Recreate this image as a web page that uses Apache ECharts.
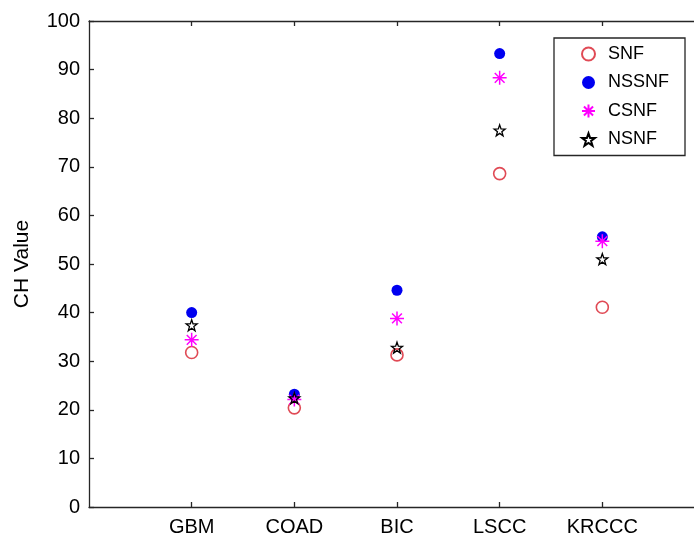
<!DOCTYPE html>
<html>
<head>
<meta charset="utf-8">
<script src="https://cdn.jsdelivr.net/npm/echarts@6/dist/echarts.min.js"></script>
<style>html,body{margin:0;padding:0;background:#fff}#c{width:694px;height:540px}</style>
</head>
<body>
<div id="c"></div>
<script>
const categories = ['GBM', 'COAD', 'BIC', 'LSCC', 'KRCCC'];
const snf   = [31.8, 20.4, 31.3, 68.6, 41.1];
const nssnf = [40.0, 23.2, 44.6, 93.3, 55.6];
const csnf  = [34.4, 22.1, 38.8, 88.3, 54.7];
const nsnf  = [37.4, 22.4, 32.8, 77.5, 51.0];
const yTicks = [0, 10, 20, 30, 40, 50, 60, 70, 80, 90, 100];

const FONT = 'Liberation Sans, Arial, sans-serif';
const asterisk = 'path://M10,0L10,20M0,10L20,10M3,3L17,17M3,17L17,3';
const pentagram = 'path://M10,0L12.35,6.76L19.51,6.91L13.8,11.24L15.88,18.09L10,14L4.12,18.09L6.2,11.24L0.49,6.91L7.65,6.76Z';

function pts(arr){ return arr.map((v,i)=>[i+1, v]); }

const chart = echarts.init(document.getElementById('c'), null, {renderer:'canvas'});
const axisCol = '#262626';
chart.setOption({
  animation: false,
  grid: {left: 89, top: 21, width: 616, height: 486, show: false, containLabel: false, outerBoundsMode: 'none'},
  xAxis: [{
    type: 'value', min: 0, max: 6, interval: 1, position: 'bottom',
    axisLine: {show: true, lineStyle: {color: axisCol, width: 1.3}},
    axisTick: {show: true, inside: true, length: 5, customValues: [1,2,3,4,5], lineStyle: {color: axisCol, width: 1.3}},
    axisLabel: {show: true, customValues: [1,2,3,4,5], margin: 10, color: '#000', fontSize: 20, fontFamily: FONT,
      formatter: v => categories[v-1] || ''},
    splitLine: {show: false}
  }, {
    type: 'value', min: 0, max: 6, interval: 1, position: 'top',
    axisLine: {show: true, onZero: false, lineStyle: {color: axisCol, width: 1.3}},
    axisTick: {show: true, inside: true, length: 5, customValues: [1,2,3,4,5], lineStyle: {color: axisCol, width: 1.3}},
    axisLabel: {show: false},
    splitLine: {show: false}
  }],
  yAxis: {
    type: 'value', min: 0, max: 100, interval: 10,
    name: 'CH Value', nameLocation: 'middle', nameGap: 56,
    nameTextStyle: {color: '#000', fontSize: 21, fontFamily: FONT},
    axisLine: {show: true, lineStyle: {color: axisCol, width: 1.3}},
    axisTick: {show: true, inside: true, length: 5, lineStyle: {color: axisCol, width: 1.3}},
    axisLabel: {margin: 9, color: '#000', fontSize: 20, fontFamily: FONT,
      customValues: yTicks},
    splitLine: {show: false}
  },
  legend: {
    orient: 'vertical', left: 554, top: 38,
    padding: [7, 16, 7, 27],
    itemWidth: 13, itemHeight: 13, itemGap: 10.5,
    borderColor: '#262626', borderWidth: 1.3, backgroundColor: '#fff',
    textStyle: {color: '#000', fontSize: 18, fontFamily: FONT, padding: [0,0,0,8]},
    data: ['SNF', 'NSSNF', 'CSNF', 'NSNF']
  },
  series: [
    {name: 'SNF', type: 'scatter', data: pts(snf), symbol: 'circle', symbolSize: 12,
     itemStyle: {color: '#fff', borderColor: '#e04a55', borderWidth: 1.6, opacity: 1}},
    {name: 'NSSNF', type: 'scatter', data: pts(nssnf), symbol: 'circle', symbolSize: 11,
     itemStyle: {color: '#0000f0', borderWidth: 0, opacity: 1}},
    {name: 'CSNF', type: 'scatter', data: pts(csnf), symbol: asterisk, symbolSize: 14,
     itemStyle: {color: 'rgba(0,0,0,0)', borderColor: '#ff00ff', borderWidth: 1.5, opacity: 1}},
    {name: 'NSNF', type: 'scatter', data: pts(nsnf), symbol: pentagram, symbolSize: 11,
     itemStyle: {color: 'rgba(255,255,255,0)', borderColor: '#000', borderWidth: 1.3, opacity: 1}}
  ]
});
</script>
</body>
</html>
